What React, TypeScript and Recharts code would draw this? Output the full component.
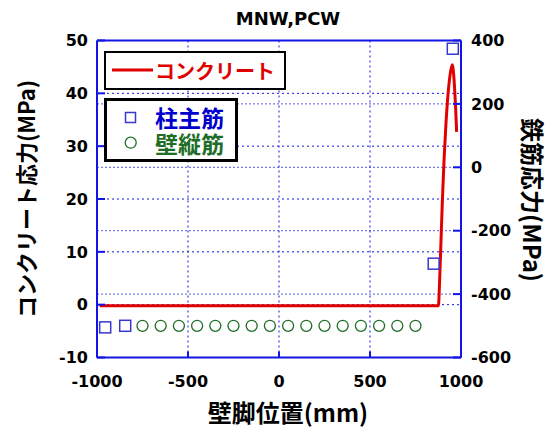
import React from "react";
import {
  ComposedChart,
  Line,
  Scatter,
  XAxis,
  YAxis,
  CartesianGrid,
  ReferenceLine,
} from "recharts";

// concrete stress along the wall base (left axis, MPa)
const concreteX = [-985, 876, 882, 890, 898, 907, 917, 928, 940, 952, 962, 970, 976];
const concreteY = [-0.2, -0.2, 4, 12, 20, 27.5, 34, 39.5, 43.5, 45.4, 42.5, 37.5, 32.7];

// column main bars (right axis, MPa)
const columnX = [-955, -845, 850, 955];
const columnY = [-505, -500, -304, 374];

// wall vertical bars (right axis, MPa)
const wallX = [-750, -650, -550, -450, -350, -250, -150, -50, 50, 150, 250, 350, 450, 550, 650, 750];
const wallY = [-500, -500, -500, -500, -500, -500, -500, -500, -500, -500, -500, -500, -500, -500, -500, -500];

const xTicks = [-1000, -500, 0, 500, 1000];
const leftTicks = [-10, 0, 10, 20, 30, 40, 50];
const rightTicks = [-600, -400, -200, 0, 200, 400];

const concrete = concreteX.map((x, i) => ({ x, c: concreteY[i] }));
const columns = columnX.map((x, i) => ({ x, s: columnY[i] }));
const walls = wallX.map((x, i) => ({ x, s: wallY[i] }));

const BLUE = "#1414e6";
const RED = "#e00000";
const SQ = "#3838d0";
const GREEN = "#1f6e28";
const NUM_FONT = "'DejaVu Sans', sans-serif";
const JP_FONT = "'Noto Sans CJK JP', sans-serif";

const tickStyle = { fontFamily: NUM_FONT, fontSize: 16, fontWeight: 700, fill: "#000" };

const Square = (p: any) => (
  <rect x={p.cx - 5.5} y={p.cy - 5.5} width={11} height={11} fill="none" stroke={SQ} strokeWidth={1.5} />
);
const Ring = (p: any) => (
  <circle cx={p.cx} cy={p.cy} r={5.5} fill="none" stroke={GREEN} strokeWidth={1.3} />
);

export default function App() {
  return (
    <div style={{ position: "absolute", left: 0, top: 0, width: 549, height: 428, background: "#fff" }}>
      <ComposedChart
        width={549}
        height={428}
        margin={{ top: 40.5, right: 28, bottom: 40.5, left: 37 }}
      >
        <CartesianGrid yAxisId="L" horizontal vertical={false} stroke={BLUE} strokeDasharray="2 3" />
        <CartesianGrid yAxisId="R" horizontal vertical={false} stroke="#5a5ae8" strokeDasharray="2 2" />
        <CartesianGrid yAxisId="L" horizontal={false} vertical stroke={BLUE} strokeDasharray="2 3" />
        <XAxis
          type="number"
          dataKey="x"
          domain={[-1000, 1000]}
          ticks={xTicks}
          height={30}
          allowDataOverflow
          stroke={BLUE}
          strokeWidth={2}
          tickSize={-6}
          tickMargin={24}
          tick={tickStyle}
        />
        <YAxis
          yAxisId="L"
          orientation="left"
          domain={[-10, 50]}
          ticks={leftTicks}
          width={60}
          allowDataOverflow
          stroke={BLUE}
          strokeWidth={2}
          tickSize={-8}
          tickMargin={17}
          tick={tickStyle}
        />
        <YAxis
          yAxisId="R"
          orientation="right"
          domain={[-600, 400]}
          ticks={rightTicks}
          width={60}
          allowDataOverflow
          stroke={BLUE}
          strokeWidth={2}
          tickSize={-8}
          tickMargin={18}
          tick={tickStyle}
        />
        <ReferenceLine yAxisId="L" y={50} stroke={BLUE} strokeWidth={2} />
        <Line
          yAxisId="L"
          data={concrete}
          dataKey="c"
          type="monotone"
          stroke={RED}
          strokeWidth={3}
          dot={false}
          isAnimationActive={false}
        />
        <Scatter yAxisId="R" data={columns} dataKey="s" shape={Square} isAnimationActive={false} />
        <Scatter yAxisId="R" data={walls} dataKey="s" shape={Ring} isAnimationActive={false} />
      </ComposedChart>

      <svg
        width={549}
        height={428}
        style={{ position: "absolute", left: 0, top: 0, pointerEvents: "none" }}
      >
        <text x={288} y={25} textAnchor="middle" fontFamily={NUM_FONT} fontSize={18} fontWeight={700} fill="#000">
          MNW,PCW
        </text>
        <text
          transform="translate(25,199) rotate(-90)"
          textAnchor="middle"
          dominantBaseline="central"
          fontFamily={JP_FONT}
          fontSize={22}
          fontWeight={700}
          fill="#000"
        >
          コンクリート応力(MPa)
        </text>
        <text
          transform="translate(533,200) rotate(90)"
          textAnchor="middle"
          dominantBaseline="central"
          fontFamily={JP_FONT}
          fontSize={24}
          fontWeight={700}
          fill="#000"
        >
          鉄筋応力(MPa)
        </text>
        <text
          x={288}
          y={411}
          textAnchor="middle"
          dominantBaseline="central"
          fontFamily={JP_FONT}
          fontSize={24}
          fontWeight={700}
          fill="#000"
        >
          壁脚位置(mm)
        </text>

        {/* legend: concrete */}
        <rect x={105} y={52} width={180} height={37} fill="#fff" stroke="#000" strokeWidth={2} />
        <line x1={112} y1={70} x2={153} y2={70} stroke={RED} strokeWidth={3} />
        <text x={155} y={70} dominantBaseline="central" fontFamily={JP_FONT} fontSize={20} fontWeight={700} fill={RED}>
          コンクリート
        </text>

        {/* legend: bars */}
        <rect x={105.5} y={99.5} width={131} height={61} fill="#fff" stroke="#000" strokeWidth={3} />
        <rect x={125.5} y={112.5} width={10} height={10} fill="none" stroke={SQ} strokeWidth={1.5} />
        <text x={155} y={117} dominantBaseline="central" fontFamily={JP_FONT} fontSize={23} fontWeight={700} fill="#0000cc">
          柱主筋
        </text>
        <circle cx={130.7} cy={142.7} r={5.5} fill="none" stroke={GREEN} strokeWidth={1.3} />
        <text x={155} y={143} dominantBaseline="central" fontFamily={JP_FONT} fontSize={23} fontWeight={700} fill={GREEN}>
          壁縦筋
        </text>
      </svg>
    </div>
  );
}
